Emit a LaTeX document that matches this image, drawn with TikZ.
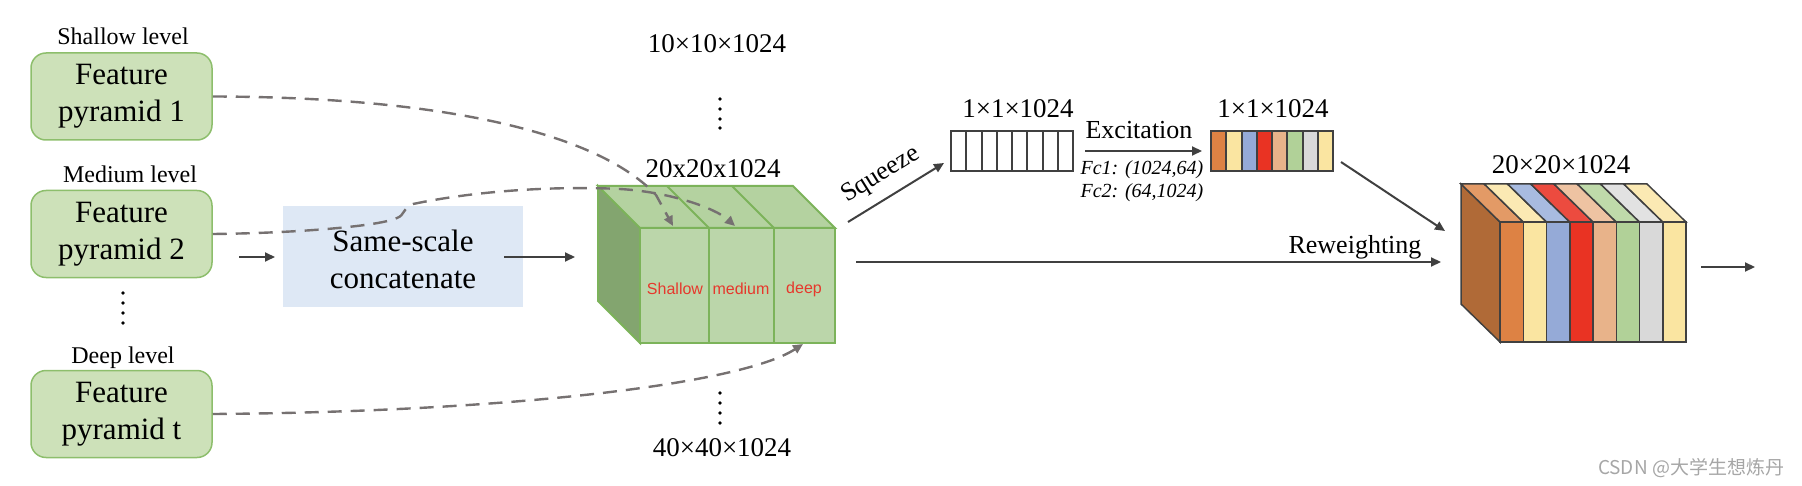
\documentclass[tikz,border=0pt]{standalone}
\usepackage{fontspec}
\setmainfont{Liberation Serif}
\newfontfamily\arialfont{Liberation Sans}
\newfontfamily\cjkfont{Noto Sans CJK SC}
\usetikzlibrary{arrows.meta}
\definecolor{fpfill}{HTML}{CDE1B9}
\definecolor{fpline}{HTML}{8DBE6C}
\definecolor{bluebox}{HTML}{DEE8F5}
\definecolor{cfront}{HTML}{BBD6AA}
\definecolor{ctop}{HTML}{B4D2A0}
\definecolor{cleft}{HTML}{83A56F}
\definecolor{cline}{HTML}{7CB35A}
\definecolor{redtxt}{HTML}{E6382C}
\definecolor{arrgray}{HTML}{404040}
\definecolor{dashgray}{HTML}{767171}
\definecolor{edge}{HTML}{404040}
\definecolor{wm}{HTML}{A6A6A6}
\definecolor{sA}{HTML}{DD8244}
\definecolor{sB}{HTML}{FAE5A1}
\definecolor{sC}{HTML}{95AAD7}
\definecolor{sD}{HTML}{E93323}
\definecolor{sE}{HTML}{E8B38A}
\definecolor{sF}{HTML}{B1D198}
\definecolor{sG}{HTML}{D9D9D9}
\definecolor{tA}{HTML}{E39A66}
\definecolor{tB}{HTML}{FBE9B3}
\definecolor{tC}{HTML}{A8BBE0}
\definecolor{tD}{HTML}{EC4B3F}
\definecolor{tE}{HTML}{EEC3A2}
\definecolor{tF}{HTML}{BFDAAA}
\definecolor{tG}{HTML}{E2E2E2}
\definecolor{brownside}{HTML}{B06A37}
\begin{document}
\begin{tikzpicture}[x=0.5pt,y=-0.5pt,
  fpbox/.style={draw=fpline, fill=fpfill, rounded corners=7.5pt, line width=0.75pt,
    minimum width=90.5pt, minimum height=43.5pt, align=center, inner sep=0pt,
    font=\fontsize{15.5}{18.5}\selectfont},
  lvl/.style={font=\fontsize{12}{14}\selectfont, inner sep=0pt},
  dimlbl/.style={font=\fontsize{13.5}{16}\selectfont, inner sep=0pt},
  redlbl/.style={text=redtxt, font=\arialfont\fontsize{8}{9}\selectfont, inner sep=0pt},
  fclbl/.style={font=\itshape\fontsize{10}{12}\selectfont, inner sep=0pt},
  arr/.style={draw=arrgray, line width=1pt, -{Triangle[length=5pt,width=4.5pt]}},
  dasharr/.style={draw=dashgray, line width=1.2pt, dash pattern=on 7pt off 4.5pt,
    -{Triangle[length=5pt,width=4.5pt]}},
  edgeline/.style={draw=edge, line width=0.75pt},
  dotmark/.style={fill=black}
]
\useasboundingbox (0,0) rectangle (1802,486);

% ---------- left feature pyramids ----------
\node[fpbox] (fp1) at (121.5,96.5) {Feature\\pyramid 1};
\node[fpbox] (fp2) at (121.5,234) {Feature\\pyramid 2};
\node[fpbox] (fp3) at (121.5,414) {Feature\\pyramid t};
\node[lvl, anchor=base] (l1) at (123,45) {Shallow level};
\node[lvl, anchor=base] (l2) at (130,183) {Medium level};
\node[lvl, anchor=base] (l3) at (123,363) {Deep level};
\foreach \yy in {293,303,313,323} \fill[dotmark] (123,\yy) circle[radius=0.9pt];

% ---------- concatenate box ----------
\node[fill=bluebox, minimum width=120pt, minimum height=50.5pt, inner sep=0pt] (cat) at (403,256.5) {};
\node[align=center, inner sep=0pt, font=\fontsize{15.5}{18.5}\selectfont] (cattxt) at (403,259) {Same-scale\\concatenate};

\coordinate (a1s) at (239,257);
\coordinate (a1e) at (275,257);
\draw[arr] (a1s) -- (a1e);
\coordinate (a2s) at (504,257);
\coordinate (a2e) at (575,257);
\draw[arr] (a2s) -- (a2e);

% ---------- green cube ----------
\filldraw[fill=cleft, draw=cline, line width=1pt] (598,186) -- (640,228) -- (640,343) -- (598,301) -- cycle;
\filldraw[fill=ctop, draw=cline, line width=1pt] (640,228) -- (835,228) -- (793,186) -- (598,186) -- cycle;
\filldraw[fill=cfront, draw=cline, line width=1pt] (640,228) rectangle (835,343);
\draw[cline, line width=1pt] (709,228) -- (709,343) (774,228) -- (774,343);
\draw[cline, line width=1pt] (709,228) -- (667,186) (774,228) -- (732,186);
\node[redlbl] (rs) at (675,289) {Shallow};
\node[redlbl] (rm) at (741,289) {medium};
\node[redlbl] (rd) at (804,289) {deep};
\coordinate (sh) at (673,226);
\coordinate (md) at (735,226);
\coordinate (dp) at (803,344);

\node[dimlbl, anchor=base] (d10) at (717,53) {10×10×1024};
\foreach \yy in {99,109,119,128} \fill[dotmark] (720,\yy) circle[radius=0.9pt];
\node[dimlbl, anchor=base] (d20) at (713,178) {20x20x1024};
\foreach \yy in {393,403,413,423} \fill[dotmark] (720,\yy) circle[radius=0.9pt];
\node[dimlbl, anchor=base] (d40) at (722,456) {40×40×1024};

% ---------- dashed connectors ----------
\draw[dasharr] (fp1.east) .. controls (450,97) and (600,135) .. (656,195) -- (sh);
\draw[dasharr] (fp2.east) .. controls (300,233) and (380,226) .. (397,218)
   .. controls (405,215) and (402,209) .. (413,204)
   .. controls (480,190) and (560,186) .. (620,189)
   .. controls (670,192) and (715,208) .. (md);
\draw[dasharr] (fp3.east) .. controls (500,412) and (740,385) .. (dp);

% ---------- squeeze ----------
\coordinate (sqs) at (848,222);
\coordinate (sqe) at (944,163);
\draw[arr] (sqs) -- (sqe);
\node[rotate=32, inner sep=0pt, font=\fontsize{13}{15}\selectfont] (sqt) at (881,175) {Squeeze};

% empty bar
\foreach \i in {0,...,7}
  \draw[edgeline, line width=1pt] (951+15.25*\i,131) rectangle ++(15.25,40);
\node[dimlbl, anchor=base] (d1a) at (1018,118) {1×1×1024};

% excitation
\coordinate (exs) at (1085,151);
\coordinate (exe) at (1202,151);
\draw[arr] (exs) -- (exe);
\node[font=\fontsize{13}{15}\selectfont, inner sep=0pt, anchor=base] (ext) at (1139,139) {Excitation};
\node[fclbl, anchor=base] (fc1) at (1142,175) {Fc1: (1024,64)};
\node[fclbl, anchor=base] (fc2) at (1142,198) {Fc2: (64,1024)};

% colored bar
\foreach \i/\c in {0/sA,1/sB,2/sC,3/sD,4/sE,5/sF,6/sG,7/sB}
  \filldraw[fill=\c, draw=edge, line width=1pt] (1211+15.25*\i,131) rectangle ++(15.25,40);
\node[dimlbl, anchor=base] (d1b) at (1273,118) {1×1×1024};

% arrows into reweighted cube
\coordinate (cbs) at (1341,162);
\coordinate (cbe) at (1445,231);
\draw[arr] (cbs) -- (cbe);
\coordinate (rws) at (856,262);
\coordinate (rwe) at (1441,262);
\draw[arr] (rws) -- (rwe);
\node[font=\fontsize{13}{15}\selectfont, inner sep=0pt, anchor=base] (rwt) at (1355,253) {Reweighting};

% ---------- reweighted cube ----------
\filldraw[fill=brownside, edgeline] (1461,184) -- (1500,222) -- (1500,342) -- (1461,304) -- cycle;
\foreach \i/\fc/\tc in {0/sA/tA,1/sB/tB,2/sC/tC,3/sD/tD,4/sE/tE,5/sF/tF,6/sG/tG,7/sB/tB}{
  \pgfmathsetmacro\xa{1500+23.25*\i}
  \pgfmathsetmacro\xb{1500+23.25*(\i+1)}
  \filldraw[fill=\tc, edgeline] (\xa,222) -- (\xb,222) -- (\xb-39,184) -- (\xa-39,184) -- cycle;
  \filldraw[fill=\fc, edgeline] (\xa,222) rectangle (\xb,342);
}
\node[dimlbl, anchor=base] (d20b) at (1561,174) {20×20×1024};

\coordinate (outs) at (1701,267);
\coordinate (oute) at (1755,267);
\draw[arr] (outs) -- (oute);

% watermark
\node[text=wm, font=\cjkfont\fontsize{9.5}{11}\selectfont, inner sep=0pt] (wmk) at (1691,468) {CSDN @大学生想炼丹};
\end{tikzpicture}
\end{document}
